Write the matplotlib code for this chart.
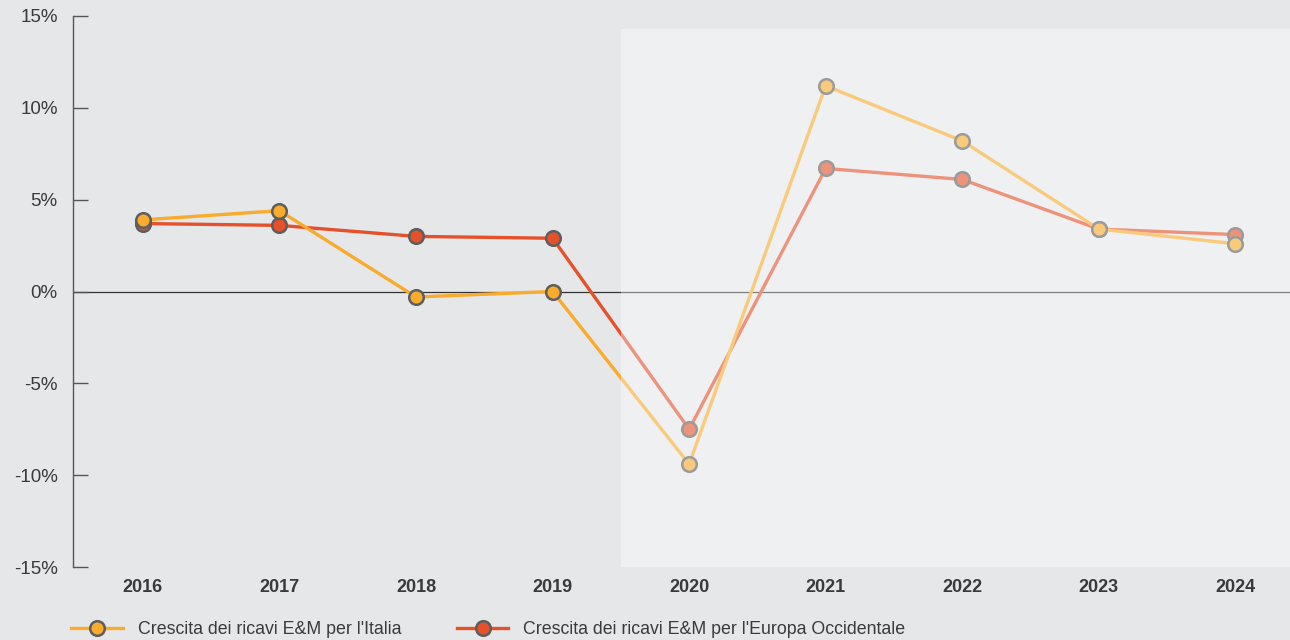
import matplotlib.pyplot as plt
from matplotlib.patches import Rectangle
from matplotlib.ticker import FuncFormatter

plt.rcParams['font.family'] = ['Liberation Sans', 'DejaVu Sans']

# Data
YEARS = ["2016", "2017", "2018", "2019", "2020", "2021", "2022", "2023", "2024"]
ITALIA = [3.9, 4.4, -0.3, 0.0, -9.4, 11.2, 8.2, 3.4, 2.6]
EUROPA_OCC = [3.7, 3.6, 3.0, 2.9, -7.5, 6.7, 6.1, 3.4, 3.1]
FORECAST_FROM = "2020"

BG = "#E6E7E9"
YELLOW = "#F8AB2C"
RED = "#E4512B"
EDGE = "#5E5E5E"
TEXT = "#3A3A3A"


def main():
    fig = plt.figure(figsize=(12.9, 6.4), dpi=100, facecolor=BG)
    ax = fig.add_axes([73 / 1290, 1 - 567 / 640, 1 - 73 / 1290, (567 - 16) / 640])
    ax.set_facecolor(BG)

    x = list(range(len(YEARS)))
    style = dict(linewidth=2.4, marker='o', markersize=10.5, markeredgewidth=1.8,
                 markeredgecolor=EDGE)
    ax.plot(x, ITALIA, color=YELLOW, markerfacecolor=YELLOW, zorder=3,
            label="Crescita dei ricavi E&M per l'Italia", **style)
    ax.plot(x, EUROPA_OCC, color=RED, markerfacecolor=RED, zorder=2,
            label="Crescita dei ricavi E&M per l'Europa Occidentale", **style)
    ax.axhline(0, color="#333333", linewidth=0.9, zorder=1)

    # Forecast years are veiled by a light panel
    start = YEARS.index(FORECAST_FROM) - 0.5
    ax.add_patch(Rectangle((start, -15), 10, 29.3, facecolor="white", alpha=0.38,
                           edgecolor="none", zorder=5))

    ax.set_xlim(-0.512, 8.4)
    ax.set_ylim(-15, 15)
    ax.set_xticks(x)
    ax.set_xticklabels(YEARS)
    ax.set_yticks([-15, -10, -5, 0, 5, 10, 15])
    ax.yaxis.set_major_formatter(FuncFormatter(lambda v, _: f"{v:.0f}%"))

    for side in ["top", "right", "bottom"]:
        ax.spines[side].set_visible(False)
    ax.spines["left"].set_color("#555555")
    ax.spines["left"].set_linewidth(1.0)

    ax.tick_params(axis='y', direction='in', length=11, width=1.0, color="#555555",
                   pad=11, labelsize=13.5, labelcolor=TEXT)
    ax.tick_params(axis='x', length=0, pad=9, labelsize=13, labelcolor=TEXT)
    for lbl in ax.get_xticklabels():
        lbl.set_fontweight('bold')

    handles, labels = ax.get_legend_handles_labels()
    leg = fig.legend(handles, labels, loc='lower left', bbox_to_anchor=(0.043, -0.022),
                     ncol=2, frameon=False, fontsize=12.8, handlelength=2.9,
                     columnspacing=3.1, handletextpad=0.85)
    for t in leg.get_texts():
        t.set_color(TEXT)

    fig.savefig("out.png", dpi=100, facecolor=BG)


if __name__ == "__main__":
    main()
